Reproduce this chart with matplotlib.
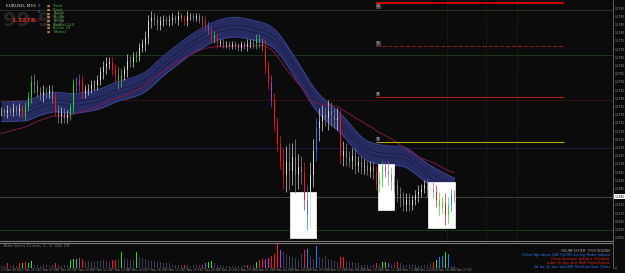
import matplotlib
matplotlib.use('Agg')
import matplotlib.pyplot as plt
from matplotlib.patches import Rectangle
import numpy as np
import pandas as pd

# DATOS: cierres de velas M15 en pips sobre 1.1650
closes = [82, 81, 83, 82, 84, 82, 84, 80, 85, 91,
          100, 98, 94, 92, 94, 93, 95, 90, 82, 79,
          81, 78, 80, 84, 99, 98, 101, 93, 95, 96,
          98, 98, 101, 106, 109, 111, 112, 107, 104, 101,
          104, 107, 113, 112, 115, 116, 121, 123, 127, 137,
          139, 138, 135, 137, 138, 137, 138, 139, 138, 140,
          139, 137, 140, 140, 139, 140, 138, 137, 134, 132,
          128, 127, 124, 124, 123, 123, 122, 123, 122, 121,
          123, 122, 123, 124, 123, 126, 124, 122, 109, 100,
          89, 74, 62, 52, 43, 51, 46, 54, 43, 48,
          45, 28, 19, 43, 58, 72, 76, 80, 78, 82,
          79, 77, 78, 55, 58, 54, 52, 55, 49, 51,
          48, 49, 46, 48, 45, 38, 40, 48, 46, 43,
          39, 37, 31, 29, 25, 28, 25, 28, 31, 33,
          35, 37, 34, 35, 33, 28, 24, 26, 19, 25,
          31, 30]

# mechas (pips a cada lado del cuerpo)
wicks = [3, 2, 3, 2, 3, 2, 3, 2, 3, 3,
         4, 5, 3, 3, 4, 3, 3, 3, 3, 4,
         4, 3, 3, 3, 3, 4, 4, 3, 3, 3,
         3, 3, 3, 3, 4, 4, 3, 3, 4, 5,
         4, 3, 4, 3, 3, 3, 3, 3, 4, 4,
         4, 3, 3, 3, 3, 2, 3, 3, 2, 3,
         2, 2, 3, 2, 2, 2, 2, 3, 3, 3,
         3, 3, 3, 2, 2, 2, 2, 2, 2, 2,
         2, 2, 3, 2, 2, 3, 3, 3, 4, 4,
         4, 4, 4, 5, 8, 10, 12, 9, 11, 8,
         7, 6, 9, 8, 7, 6, 8, 6, 5, 7,
         6, 5, 6, 5, 6, 5, 4, 5, 5, 4,
         4, 4, 3, 4, 4, 4, 5, 4, 4, 6,
         5, 4, 4, 5, 4, 4, 4, 3, 3, 4,
         3, 3, 4, 3, 4, 4, 5, 4, 6, 5,
         4, 3]

# volumen (x100 ticks)
volumes = [2, 2, 4, 2, 3, 2, 4, 4, 5, 4,
           6, 3, 3, 2, 3, 3, 2, 3, 4, 3,
           2, 3, 3, 7, 8, 8, 9, 8, 5, 6,
           5, 5, 6, 6, 7, 6, 5, 7, 7, 8,
           14, 9, 8, 7, 8, 14, 10, 9, 8, 7,
           6, 6, 5, 5, 4, 4, 4, 3, 3, 3,
           3, 3, 3, 2, 3, 3, 3, 3, 4, 5,
           6, 4, 3, 3, 2, 2, 2, 2, 2, 2,
           2, 3, 3, 2, 3, 5, 7, 8, 8, 9,
           11, 12, 21, 16, 14, 12, 11, 10, 9, 8,
           12, 16, 17, 10, 8, 19, 10, 9, 11, 8,
           7, 6, 5, 10, 10, 6, 5, 5, 4, 4,
           3, 3, 3, 2, 3, 4, 3, 5, 5, 4,
           3, 4, 5, 4, 3, 3, 3, 3, 3, 3,
           2, 3, 3, 4, 5, 7, 10, 11, 14, 12,
           2, 2]

# velas marcadas por el indicador
candle_marks = {7: 'r', 8: 'g', 9: 'g', 10: 'g', 18: 'r', 23: 'g', 24: 'g', 26: 'p', 27: 'r',
                37: 'r', 38: 'r', 40: 'g', 45: 'g', 61: 'r', 68: 'r', 69: 'b', 70: 'r',
                71: 'g', 72: 'r', 85: 'g', 88: 'r', 89: 'r', 90: 'p', 91: 'r', 92: 'r',
                93: 'r', 94: 'r', 101: 'r', 102: 'b', 105: 'b', 113: 'r', 125: 'r',
                126: 'g', 127: 'g', 128: 'p', 145: 'r', 146: 'g', 147: 'g', 148: 'r',
                149: 'g', 150: 'b'}
vol_marks = {2: 'r', 6: 'r', 7: 'g', 8: 'r', 9: 'g', 10: 'g', 18: 'r', 23: 'g', 24: 'g',
             25: 'g', 26: 'p', 27: 'r', 37: 'r', 38: 'r', 40: 'g', 45: 'g', 61: 'r', 67: 'r',
             68: 'b', 69: 'g', 70: 'g', 82: 'r', 85: 'g', 86: 'r', 87: 'r', 88: 'p', 89: 'p',
             90: 'r', 91: 'r', 92: 'r', 93: 'p', 101: 'r', 102: 'b', 105: 'b', 113: 'r',
             114: 'r', 125: 'r', 127: 'g', 128: 'g', 129: 'p', 132: 'r', 144: 'r', 145: 'g',
             146: 'b', 147: 'b', 148: 'g', 149: 'b'}
mark_colors = {'r': '#ff1414', 'g': '#22dd33', 'p': '#b030e8', 'b': '#1e7cff'}

# niveles horizontales (pivotes) y cajas
levels = [1.17982, 1.17719, 1.17408, 1.17134]
level_colors = ['#c80000', '#8a1a1a', '#b01818', '#b8a800']
level_names = ['R2', 'R1', 'PP', 'S1']
faint_levels = [1.17939, 1.17665, 1.17390, 1.17097, 1.16597]
faint_colors = ['#35301c', '#1a361a', '#361212', '#1a1a40', '#163616']
boxes = [(96.2, 104.8, 1.16550, 1.16830), (125.5, 130.8, 1.16720, 1.17000),
         (142.2, 151.2, 1.16610, 1.16890)]
vlines_x = [148.5, 161.5, 171.8]

BG = '#0b0b0b'
base = 1.1650
c = base + np.array(closes) / 10000
o = np.r_[c[0], c[:-1]]
w = np.array(wicks) / 10000
hi = np.maximum(o, c) + w
lo = np.minimum(o, c) - w
x = np.arange(len(c))

fig = plt.figure(figsize=(6.25, 2.73), dpi=100, facecolor=BG)
ax = fig.add_axes([0, 1 - 241 / 273, 613 / 625, 241 / 273], facecolor=BG)
axv = fig.add_axes([0, 5 / 273, 613 / 625, 25 / 273], facecolor=BG)
xmax = (613 - 1.5) / 3
ax.set_xlim(-0.5, xmax)
axv.set_xlim(-0.5, xmax)
ax.set_ylim(1.16530, 1.1800)

# lineas de fondo
for lv, col in zip(faint_levels, faint_colors):
    ax.axhline(lv, color=col, lw=0.7, zorder=0)
for vx in vlines_x:
    ax.axvline(vx, color='#30301a', lw=0.6, ls=(0, (1, 1.5)), zorder=0)
ax.axhline(c[-1] - 0.00002, color='#4a4a4a', lw=0.6, zorder=0)

# banda azul (media 30) y media granate
s = pd.Series(c)
mid = s.rolling(30, min_periods=1).mean().ewm(span=5, adjust=False).mean().values
up_b = mid + 0.0006
dn_b = mid - 0.0006
ax.fill_between(x, dn_b, up_b, color='#262b62', lw=0, zorder=1)
ax.plot(x, up_b, color='#3c4490', lw=0.7, zorder=1)
ax.plot(x, dn_b, color='#3c4490', lw=0.7, zorder=1)
ax.plot(x, mid + 0.00012, color='#181b44', lw=0.5, zorder=1)
ax.plot(x, mid - 0.00012, color='#181b44', lw=0.5, zorder=1)
ax.plot(x, mid, color='#4a4a60', lw=0.3, ls=':', zorder=1)
slow = pd.Series(np.r_[base + 68 / 10000, c]).ewm(alpha=0.04, adjust=False).mean().values[1:]
ax.plot(x, slow, color='#7e1846', lw=0.7, zorder=1)

# cajas blancas
for x0, x1, y0, y1 in boxes:
    ax.add_patch(Rectangle((x0, y0), x1 - x0, y1 - y0, facecolor='white',
                           edgecolor='white', lw=0.5, zorder=2))

# velas
cols = []
for i in range(len(c)):
    if i in candle_marks:
        cols.append(mark_colors[candle_marks[i]])
    elif c[i] >= o[i]:
        cols.append('#d8d8d8')
    else:
        cols.append('#8a8a8a')
ax.vlines(x, lo, hi, colors=cols, lw=0.5, zorder=3)
ax.bar(x, np.maximum(np.abs(c - o), 0.00003), bottom=np.minimum(o, c), width=0.55,
       color=cols, lw=0, zorder=4)

# niveles a la derecha
for lv, col, nm in zip(levels, level_colors, level_names):
    ls = '--' if nm == 'R1' else '-'
    lw = 1.4 if nm == 'R2' else 0.8
    ax.hlines(lv, 124.8, 187.5, color=col, lw=lw, ls=ls, zorder=2)
    if nm == 'R2':
        ax.text(125, lv - 0.00008, nm, fontsize=2.0, color='#cccccc', va='top', ha='left',
                bbox=dict(facecolor='#444444', edgecolor='none', pad=0.3), zorder=5)
    else:
        ax.text(125, lv + 0.00006, nm, fontsize=2.0, color='#cccccc', va='bottom', ha='left',
                bbox=dict(facecolor='#444444', edgecolor='none', pad=0.3), zorder=5)

# eje de precios a la derecha
ticks = np.arange(1.1655, 1.17951, 0.0005)
ax.yaxis.tick_right()
ax.set_yticks(ticks)
ax.set_yticklabels([f'{t:.4f}' for t in ticks], fontsize=2.1, color='#9a9a9a')
ax.tick_params(axis='y', length=1.0, width=0.4, color='#777777', pad=0.4)
ax.set_xticks([])
for sp in ['top', 'left']:
    ax.spines[sp].set_visible(False)
ax.spines['right'].set_color('#6a6a6a')
ax.spines['right'].set_linewidth(0.6)
ax.spines['bottom'].set_color('#7a7a7a')
ax.spines['bottom'].set_linewidth(0.8)
ax.text(xmax + 0.4, c[-1], f'{c[-1]:.4f}', fontsize=2.1, color='black', va='center',
        ha='left', bbox=dict(facecolor='white', edgecolor='none', pad=0.3), clip_on=False)

# textos arriba a la izquierda
fig.text(0.004, 0.905, '99-99', fontsize=14, color='#262626', fontweight='bold',
         va='baseline')
fig.text(0.009, 0.985, 'EURUSD, M15', fontsize=3.2, color='#dddddd', va='top')
fig.text(0.018, 0.935, '1.1278', fontsize=4.5, color='#e02020', va='top', fontweight='bold')
fig.text(0.06, 0.985, '5', fontsize=3, color='#3a8cff', va='top')
fig.text(0.06, 0.965, '5', fontsize=3, color='#3a8cff', va='top')
fig.text(0.06, 0.935, '0', fontsize=3, color='#e02020', va='top')
side = ['Trend', 'Trend', 'Bullish', 'Bullish', 'Bullish', 'Neutral 14.0', 'Bullish 30',
        'Neutral']
for k, t in enumerate(side):
    fig.text(0.075, 0.985 - k * 0.0135, '■', fontsize=2.4, color='#b08040', va='top')
    fig.text(0.085, 0.985 - k * 0.0135, t, fontsize=2.4, color='#4caf50', va='top')

# volumen
vcols = [mark_colors[vol_marks[i]] if i in vol_marks else '#3c3c58' for i in range(len(c))]
axv.bar(x, volumes, width=0.6, color=vcols, lw=0)
axv.set_ylim(0, 22)
axv.set_xticks([])
axv.yaxis.tick_right()
axv.set_yticks([0])
axv.set_yticklabels(['0'], fontsize=2.1, color='#9a9a9a')
axv.tick_params(axis='y', length=1.0, width=0.4, color='#777777', pad=0.4)
for sp in ['bottom', 'left']:
    axv.spines[sp].set_visible(False)
axv.spines['top'].set_color('#7a7a7a')
axv.spines['top'].set_linewidth(0.8)
axv.spines['right'].set_color('#6a6a6a')
axv.spines['right'].set_linewidth(0.6)
axv.text(1, 21, 'Better Volume 1.5 alerts  (1 - 3)  1540  104', fontsize=2.2,
         color='#8a8a8a', va='top')
vol_notes = [('VOLUME SYSTEM · PITCH HEDGING', '#aaaaaa'),
             ('Climax High volume  LOW  HIGHER churning  Market  Indicator', '#3a7cff'),
             ('Climax Up volume  with price  Sell-climax', '#ff2020'),
             ('at low  15  bars  alert  HIGH  Climax Reverse', '#ff2020'),
             ('Vol  low  15  bars  with LOW  Trend Low Churn  Climax', '#3a7cff')]
for k, (t, col) in enumerate(vol_notes):
    axv.text(xmax - 1, 17 - k * 3.5, t, fontsize=2.1, color=col, ha='right', va='top')

# fechas abajo
dates = pd.date_range('2020-11-17 04:00', periods=len(c), freq='15min')
for i in range(0, len(c), 6):
    fig.text((1.5 + 3 * i) / 625, 0.004, dates[i].strftime('%d %b %H:%M'), fontsize=2.1,
             color='#8a8a8a', va='bottom', ha='left')

fig.savefig('out.png', dpi=100, facecolor=BG)
plt.close()
